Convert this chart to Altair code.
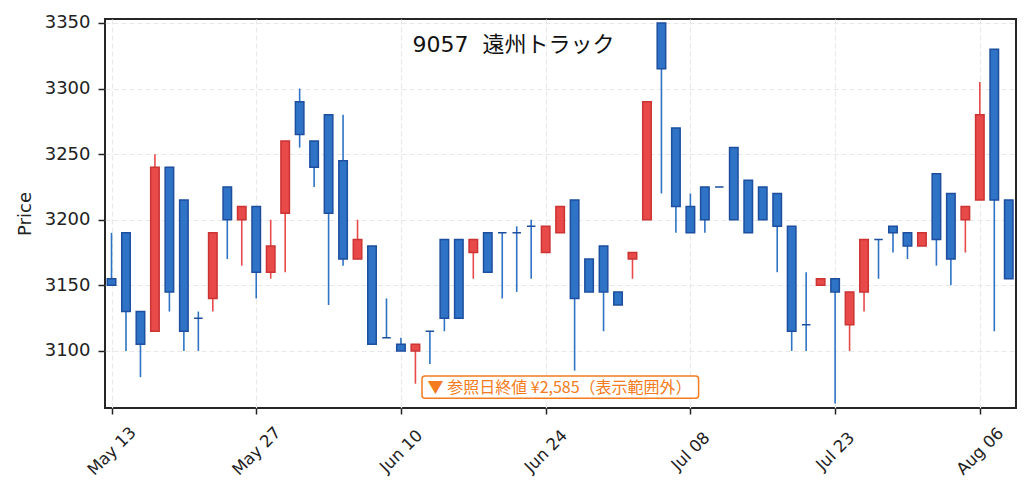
import altair as alt
import pandas as pd

# Trading days (index axis, 2024)
dates = ["05-13","05-14","05-15","05-16","05-17","05-20","05-21","05-22","05-23","05-24",
         "05-27","05-28","05-29","05-30","05-31","06-03","06-04","06-05","06-06","06-07",
         "06-10","06-11","06-12","06-13","06-14","06-17","06-18","06-19","06-20","06-21",
         "06-24","06-25","06-26","06-27","06-28","07-01","07-02","07-03","07-04","07-05",
         "07-08","07-09","07-10","07-11","07-12","07-16","07-17","07-18","07-19","07-22",
         "07-23","07-24","07-25","07-26","07-29","07-30","07-31","08-01","08-02","08-05",
         "08-06","08-07","08-08"]
opens  = [3155,3190,3130,3115,3240,3215,3125,3140,3225,3200,
          3210,3160,3205,3290,3260,3280,3245,3170,3180,3110,
          3105,3100,3115,3185,3185,3175,3190,3190,3190,3195,
          3175,3190,3215,3170,3180,3145,3170,3200,3350,3270,
          3210,3225,3225,3255,3230,3225,3220,3195,3120,3150,
          3155,3120,3145,3185,3195,3190,3180,3235,3220,3200,
          3215,3330,3215]
highs  = [3190,3190,3130,3250,3240,3215,3130,3190,3225,3210,
          3210,3200,3260,3300,3260,3280,3280,3200,3180,3140,
          3110,3105,3115,3185,3185,3185,3190,3190,3195,3200,
          3195,3210,3215,3170,3180,3145,3175,3290,3350,3270,
          3220,3225,3225,3255,3230,3225,3220,3195,3160,3155,
          3155,3145,3185,3185,3195,3190,3190,3235,3220,3210,
          3305,3330,3215]
lows   = [3150,3100,3080,3115,3130,3100,3100,3130,3170,3165,
          3140,3155,3160,3255,3225,3135,3165,3170,3105,3110,
          3100,3075,3090,3115,3125,3155,3160,3140,3145,3155,
          3175,3190,3085,3145,3115,3135,3155,3200,3220,3190,
          3190,3190,3225,3200,3190,3200,3160,3100,3100,3150,
          3060,3100,3130,3155,3175,3170,3180,3165,3150,3175,
          3215,3115,3155]
closes = [3150,3130,3105,3240,3145,3115,3125,3190,3200,3210,
          3160,3180,3260,3265,3240,3205,3170,3185,3105,3110,
          3100,3105,3115,3125,3125,3185,3160,3190,3190,3195,
          3195,3210,3140,3145,3145,3135,3175,3290,3315,3210,
          3190,3200,3225,3200,3190,3200,3195,3115,3120,3155,
          3145,3145,3185,3185,3190,3180,3190,3185,3170,3210,
          3280,3215,3155]

tick_idx = [0, 10, 20, 30, 40, 50, 60]
tick_labels = ["May 13", "May 27", "Jun 10", "Jun 24", "Jul 08", "Jul 23", "Aug 06"]
y_ticks = [3100, 3150, 3200, 3250, 3300, 3350]
title_text = "9057\u00a0\u00a0遠州トラック"
note_text = "▼ 参照日終値 ¥2,585（表示範囲外）"

df = pd.DataFrame({"i": list(range(len(dates))), "date": dates,
                   "open": opens, "high": highs, "low": lows, "close": closes})
df["dir"] = ["up" if c > o else "down" for o, c in zip(opens, closes)]

RED_FILL, RED_EDGE = "#e84a4a", "#cc3333"
BLUE_FILL, BLUE_EDGE = "#2e73c6", "#1d4f9e"
ORANGE = "#f47b20"

labels_js = "[" + ",".join("'%s'" % t for t in tick_labels) + "]"
idx_js = "[" + ",".join(str(v) for v in tick_idx) + "]"

x_scale = alt.Scale(domain=[-0.45, 62.5], nice=False, zero=False, padding=0)
y_scale = alt.Scale(domain=[3056.5, 3353], nice=False, zero=False, padding=0)

x_axis = alt.Axis(values=tick_idx, labelExpr=f"{labels_js}[indexof({idx_js}, datum.value)]",
                  title=None, labelAngle=315, labelAlign="center", labelBaseline="middle",
                  labelPadding=37, labelFontSize=16.5, tickSize=6, labelOverlap=False,
                  labelFlush=False)
y_axis = alt.Axis(values=y_ticks, format="d", title="Price", labelFontSize=18, tickSize=7,
                  labelPadding=8, titleFontSize=18, titleFontWeight="normal",
                  titleAngle=270, titleX=-80, titleY=194.5, titleAlign="center",
                  titleBaseline="middle")

base = alt.Chart(df)
wick = base.mark_rule(strokeWidth=1.6).encode(
    x=alt.X("i:Q", scale=x_scale, axis=x_axis),
    y=alt.Y("low:Q", scale=y_scale, axis=y_axis),
    y2="high:Q",
    color=alt.Color("dir:N", scale=alt.Scale(domain=["up", "down"], range=[RED_FILL, BLUE_FILL]), legend=None),
)
body = base.mark_bar(size=8.5, strokeWidth=1.5).encode(
    x=alt.X("i:Q", scale=x_scale, axis=x_axis),
    y=alt.Y("open:Q", scale=y_scale, axis=y_axis),
    y2="close:Q",
    fill=alt.Fill("dir:N", scale=alt.Scale(domain=["up", "down"], range=[RED_FILL, BLUE_FILL]), legend=None),
    stroke=alt.Stroke("dir:N", scale=alt.Scale(domain=["up", "down"], range=[RED_EDGE, BLUE_EDGE]), legend=None),
)

title_mark = alt.Chart(pd.DataFrame({"t": [title_text]})).mark_text(
    fontSize=22, font="DejaVu Sans, Noto Sans CJK JP", color="#111111",
    align="center", baseline="middle"
).encode(x=alt.value(408.6), y=alt.value(26), text="t:N")

note_box = alt.Chart(pd.DataFrame({"t": [note_text]})).mark_rect(
    fill="white", stroke=ORANGE, strokeWidth=1.5, cornerRadius=3
).encode(x=alt.value(317), x2=alt.value(593.6), y=alt.value(357), y2=alt.value(379.3))

note_txt = alt.Chart(pd.DataFrame({"t": [note_text]})).mark_text(
    fontSize=16, font="Noto Sans CJK JP", color=ORANGE, align="left", baseline="middle"
).encode(x=alt.value(322.6), y=alt.value(368.5), text="t:N")

chart = alt.layer(wick, body, title_mark, note_box, note_txt).properties(
    width=911, height=389,
    autosize=alt.AutoSizeParams(type="none"),
    padding={"left": 97, "top": 11, "right": 7, "bottom": 80},
).configure_view(
    stroke="#262626", strokeWidth=2
).configure_axis(
    domain=False, grid=True, gridColor="#e8e8e8", gridDash=[5, 3], gridWidth=1.2,
    labelFont="DejaVu Sans", titleFont="DejaVu Sans", labelColor="#222222",
    titleColor="#222222", tickColor="#222222", tickWidth=1.5
)

chart.save("out.html", embed_options={"renderer": "svg", "actions": False})
